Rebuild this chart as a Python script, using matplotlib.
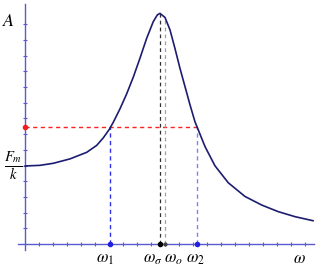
import matplotlib
matplotlib.use("Agg")
import matplotlib.pyplot as plt
import numpy as np

plt.rcParams['mathtext.fontset'] = 'stix'

# resonance curve (x and y in tick units)
omega = [0.0, 1.07, 2.02, 3.21, 4.41, 5.12, 5.59, 6.02, 6.31, 6.79, 7.26,
         7.74, 8.21, 8.69, 9.16, 9.45, 9.64, 10.0, 10.36, 10.71, 11.07, 11.43,
         11.79, 12.14, 12.38, 12.86, 13.57, 14.52, 15.71, 16.91, 18.09, 19.29, 20.59]
amp = [4.97, 5.01, 5.14, 5.42, 5.84, 6.28, 6.76, 7.30, 7.76, 8.62, 9.56,
       10.64, 11.83, 13.10, 14.16, 14.59, 14.69, 14.43, 13.63, 12.46, 11.19, 10.02,
       8.85, 7.79, 7.26, 6.20, 4.98, 3.90, 3.03, 2.48, 2.06, 1.74, 1.48]

F_k = 4.97       # static amplitude F_m/k
A_half = 7.43    # level of the red dashed line
w1, w_sig, w0, w2 = 6.04, 9.64, 10.0, 12.29
A_peak, A_w0 = 14.69, 14.43

fig = plt.figure(figsize=(3.2, 2.68), dpi=100)
ax = fig.add_axes([0, 0, 1, 1])
ax.set_xlim(-25 / 14, 295 / 14)
ax.set_ylim(-24 / 15.7, 244 / 15.7)
ax.axis('off')

axis_c = '#5b5bd0'
# axes with small ticks
ax.plot([-0.5, 20.64], [0, 0], color=axis_c, lw=1)
ax.plot([0, 0], [-0.38, 15.3], color=axis_c, lw=1)
xt = np.arange(1, 21)
yt = np.arange(1, 15)
ax.plot(xt, np.zeros_like(xt), ls='none', marker='|', ms=3, color=axis_c, mew=0.8)
ax.plot(np.zeros_like(yt), yt, ls='none', marker='_', ms=3, color=axis_c, mew=0.8)

# guide lines
dash = (0, (3, 2.5))
ax.plot([0, w2], [A_half, A_half], color='#ff2020', ls=dash, lw=1.0)
ax.plot([w1, w1], [0, A_half], color='#3030e8', ls=dash, lw=1.0)
ax.plot([w2, w2], [0, A_half], color='#8080f0', ls=dash, lw=1.0)
ax.plot([w_sig, w_sig], [0, A_peak], color='#303030', ls=dash, lw=0.9)
ax.plot([w0, w0], [0, A_w0], color='#a0a0a0', ls=dash, lw=0.9)

# curve
ax.plot(omega, amp, color='#1c1c70', lw=1.2, solid_capstyle='round',
        solid_joinstyle='round')

# points
ax.plot([0], [A_half], 'o', color='#ee2020', ms=3)
ax.plot([w1, w2], [0, 0], 'o', color='#2020e0', ms=3)
ax.plot([w_sig], [0], 'o', color='black', ms=3)
ax.plot([w0], [0], 'o', color='#404040', ms=2)

# labels
ax.text(-1.2, 14.2, '$A$', fontsize=13, ha='center', va='center')
ax.text(-0.85, F_k, r'$\frac{F_m}{k}$', fontsize=15, ha='center', va='center')
ly = -0.92
ax.text(5.7, ly, r'$\omega_1$', fontsize=12, ha='center', va='center')
ax.text(9.15, ly, r'$\omega_\sigma$', fontsize=12, ha='center', va='center')
ax.text(10.6, ly, r'$\omega_o$', fontsize=12, ha='center', va='center')
ax.text(12.2, ly, r'$\omega_2$', fontsize=12, ha='center', va='center')
ax.text(19.6, ly, r'$\omega$', fontsize=12, ha='center', va='center')

fig.savefig('out.png', dpi=100)
